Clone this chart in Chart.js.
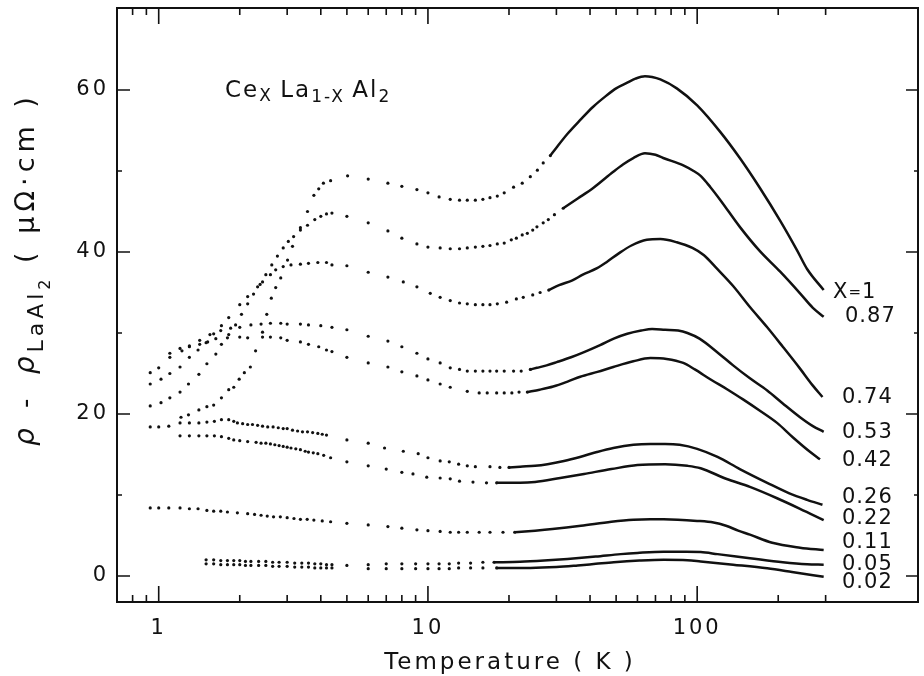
<!DOCTYPE html>
<html lang="en">
<head>
  <meta charset="utf-8">
  <title>CexLa1-xAl2 resistivity</title>
  <style>
    body { margin: 0; background: #fff; }
    #wrap { width: 924px; height: 676px; }
  </style>
</head>

<body>
  <div id="wrap"><canvas id="myChart"></canvas></div>

  <script src="https://cdn.jsdelivr.net/npm/chart.js@4"></script>
  <script>
    // concentrations, in the order the curves end at 300 K (top to bottom)
    var concentrations = ['X=1', '0.87', '0.74', '0.53', '0.42', '0.26', '0.22', '0.11', '0.05', '0.02'];

    // [T (K), rho - rho(LaAl2) (uOhm cm)]; "dots" = separate points at low T, "line" = dense data at high T
    var dotsX100 = [[1.21,19.6],[1.29,19.9],[1.41,20.5],[1.51,20.9],[1.6,21.1],[1.71,22.0],[1.82,23.0],[1.9,23.3],[1.99,24.3],[2.08,25.1],[2.19,25.8],[2.29,27.8],[2.43,30.1],[2.52,32.3],[2.62,34.3],[2.72,35.6],[2.84,36.8],[3.01,39.0],[3.14,40.7],[3.36,43.0],[3.57,45.0],[3.77,47.0],[3.93,47.8],[4.09,48.5],[4.35,48.8],[5.03,49.4],[6.0,49.0],[7.1,48.5],[8.0,48.1],[9.1,47.7],[10,47.3],[11,46.8],[12.1,46.5],[13.1,46.4],[14,46.4],[15,46.4],[16,46.5],[17,46.7],[18.1,46.9],[19.2,47.3],[20.8,48.0],[22.4,48.5],[24,49.3],[25.5,50.1],[26.8,51.0],[28.5,51.9]];
    var lineX100 = [[28.5,51.9],[30.2,53.0],[33,54.6],[36.8,56.3],[41,57.9],[46,59.3],[50,60.2],[55,60.9],[59,61.4],[64,61.7],[68,61.6],[73,61.3],[84,60.2],[100,58.1],[122,54.8],[144,51.6],[171,47.9],[203,43.9],[235,40.2],[256,37.9],[295,35.3]];

    var dotsX087 = [[0.93,21.0],[1.02,21.4],[1.1,22.0],[1.2,22.7],[1.29,23.7],[1.41,24.9],[1.51,26.2],[1.63,27.4],[1.71,28.6],[1.82,29.8],[1.93,31.0],[2.03,32.3],[2.14,33.6],[2.25,34.8],[2.38,36.0],[2.5,37.2],[2.63,38.4],[2.76,39.5],[2.9,40.5],[3.03,41.3],[3.17,41.9],[3.36,42.7],[3.57,43.3],[3.8,44.0],[4.0,44.4],[4.2,44.7],[4.4,44.8],[5.0,44.4],[6.0,43.6],[7.1,42.6],[8.0,41.7],[9.1,41.0],[10,40.6],[11.1,40.5],[12.1,40.4],[13.1,40.4],[14,40.5],[15,40.6],[16,40.7],[17,40.8],[18.1,41.0],[19.2,41.1],[20.4,41.5],[21.3,41.7],[22.4,42.1],[23.4,42.3],[24.5,42.7],[25.4,43.1],[26.8,43.6],[28,44.0],[29.5,44.6],[31.8,45.4]];
    var lineX087 = [[31.8,45.4],[36,46.6],[41.1,47.9],[48.8,49.9],[53,50.8],[57.9,51.6],[64,52.2],[70,52.0],[74.8,51.6],[88.8,50.7],[97,50.0],[103,49.4],[112,48.0],[122,46.4],[144,43.1],[171,40.1],[203,37.6],[241,34.9],[269,33.1],[295,32.0]];

    var dotsX074 = [[0.93,23.7],[1.02,24.3],[1.1,25.0],[1.2,25.8],[1.3,27.0],[1.4,27.9],[1.5,28.8],[1.6,29.9],[1.71,30.9],[1.82,31.9],[2.0,33.5],[2.14,34.5],[2.33,35.7],[2.43,36.3],[2.6,37.2],[2.72,37.8],[2.9,38.2],[3.1,38.4],[3.36,38.5],[3.6,38.6],[3.9,38.7],[4.2,38.7],[4.4,38.4],[5.0,38.3],[6.0,37.5],[7.1,36.9],[8.1,36.3],[9.1,35.7],[10.2,34.9],[11.1,34.4],[12.1,34.0],[13.1,33.7],[14,33.6],[15,33.5],[16,33.5],[17,33.5],[18.1,33.6],[19.6,33.8],[21.3,34.2],[22.6,34.4],[24.5,34.7],[26.1,35.0],[28.1,35.3]];
    var lineX074 = [[28.1,35.3],[30.7,35.9],[34.4,36.5],[37.6,37.2],[42.5,38.0],[46.3,38.8],[51,39.8],[57,40.8],[65,41.5],[73,41.6],[84,41.2],[96,40.5],[106,39.6],[118,38.0],[136,35.8],[157,33.2],[182,30.7],[208,28.3],[241,25.6],[269,23.5],[292,22.1]];

    var dotsX053 = [[0.93,25.1],[1.0,25.7],[1.1,27.0],[1.22,27.8],[1.3,28.4],[1.42,29.1],[1.55,29.8],[1.7,30.3],[1.85,30.6],[2.0,30.7],[2.2,31.0],[2.4,31.1],[2.6,31.2],[2.84,31.2],[3.0,31.1],[3.36,31.1],[3.6,31.0],[4.0,30.9],[4.4,30.7],[5.0,30.4],[6.0,29.6],[7.1,29.0],[8.0,28.3],[9.1,27.5],[10,26.8],[11.1,26.3],[12.1,25.7],[13.1,25.5],[14,25.3],[15,25.3],[16,25.3],[17,25.3],[18,25.3],[19.2,25.3],[20.8,25.3],[22.2,25.3],[24,25.5]];
    var lineX053 = [[24,25.5],[25.4,25.7],[27.6,26.0],[30.1,26.4],[34,27.0],[38.4,27.7],[43.6,28.5],[49,29.3],[55,29.9],[62,30.3],[68,30.5],[76,30.4],[85,30.3],[92,30.0],[102,29.3],[119,27.6],[136,26.0],[157,24.4],[182,22.9],[208,21.3],[241,19.6],[269,18.5],[295,17.8]];

    var dotsX042 = [[1.1,27.5],[1.2,28.1],[1.3,28.3],[1.42,28.6],[1.52,28.9],[1.63,29.3],[1.8,29.4],[2.0,29.5],[2.14,29.4],[2.43,29.5],[2.6,29.5],[2.84,29.4],[3.0,29.1],[3.36,28.9],[3.6,28.6],[3.93,28.3],[4.2,27.9],[4.4,27.7],[5.0,27.0],[6.0,26.3],[7.1,25.8],[8.0,25.2],[9.1,24.7],[10,24.2],[11.1,23.7],[12.1,23.3],[14,22.8],[15.5,22.6],[16.6,22.6],[18,22.6],[19.2,22.6],[20.5,22.6],[21.8,22.7],[23.4,22.7]];
    var lineX042 = [[23.4,22.7],[26,23.0],[29.2,23.4],[33,24.0],[36.8,24.6],[42.6,25.2],[48.8,25.8],[57.9,26.5],[67,26.9],[77,26.8],[88.8,26.3],[98,25.5],[113,24.2],[130,23.0],[148,21.8],[171,20.4],[198,18.9],[227,17.1],[263,15.3],[286,14.4]];

    var dotsX026 = [[0.93,18.4],[1.0,18.4],[1.09,18.5],[1.2,18.9],[1.3,18.9],[1.41,18.9],[1.51,19.0],[1.61,19.1],[1.71,19.3],[1.82,19.3],[1.9,19.1],[1.96,18.9],[2.05,18.8],[2.14,18.7],[2.23,18.7],[2.33,18.6],[2.43,18.5],[2.54,18.4],[2.66,18.4],[2.78,18.3],[2.9,18.2],[3.0,18.2],[3.14,18.0],[3.28,17.9],[3.42,17.8],[3.57,17.8],[3.73,17.7],[3.9,17.6],[4.05,17.5],[4.2,17.4],[5.0,16.8],[6.0,16.4],[6.9,15.8],[8.1,15.4],[9.2,15.1],[10,14.6],[11.1,14.2],[12,14.1],[13,13.8],[14,13.6],[15,13.5],[17,13.5],[18.5,13.4],[20,13.4]];
    var lineX026 = [[20,13.4],[22,13.5],[25,13.6],[27.8,13.8],[32,14.2],[36.7,14.7],[42.4,15.3],[48.8,15.8],[58,16.2],[67,16.3],[76,16.3],[86,16.2],[100,15.7],[119,14.7],[144,13.2],[182,11.5],[220,10.2],[256,9.4],[292,8.8]];

    var dotsX022 = [[1.2,17.3],[1.3,17.3],[1.41,17.3],[1.51,17.3],[1.61,17.3],[1.71,17.2],[1.82,17.0],[1.9,16.8],[2.0,16.7],[2.14,16.6],[2.3,16.5],[2.4,16.4],[2.5,16.4],[2.6,16.3],[2.7,16.2],[2.8,16.1],[2.9,16.0],[3.0,15.9],[3.1,15.8],[3.23,15.7],[3.36,15.6],[3.5,15.4],[3.6,15.3],[3.75,15.2],[3.9,15.1],[4.1,14.9],[4.35,14.6],[5,14.1],[6,13.6],[7,13.2],[8,12.8],[8.8,12.6],[9.9,12.2],[11.1,12.1],[12.1,12.0],[13.1,11.7],[14.7,11.6],[16.5,11.5],[18,11.5]];
    var lineX022 = [[18,11.5],[22,11.5],[25,11.6],[31,12.1],[38,12.6],[48,13.2],[60,13.7],[76,13.8],[92,13.6],[103,13.3],[128,12.0],[157,11.0],[198,9.6],[241,8.3],[295,6.9]];

    var dotsX011 = [[0.93,8.4],[1.0,8.4],[1.09,8.4],[1.2,8.4],[1.3,8.3],[1.4,8.3],[1.51,8.1],[1.6,8.0],[1.7,8.0],[1.8,7.9],[1.96,7.8],[2.14,7.7],[2.27,7.6],[2.4,7.5],[2.53,7.4],[2.67,7.3],[2.83,7.3],[3.0,7.2],[3.18,7.1],[3.36,7.0],[3.56,7.0],[3.77,6.9],[4.05,6.8],[4.35,6.7],[5,6.5],[6,6.3],[7.1,6.1],[8,5.9],[9.1,5.7],[10,5.6],[11.1,5.5],[12.1,5.4],[13,5.4],[14,5.4],[15.5,5.4],[17,5.4],[19,5.4],[21,5.4]];
    var lineX011 = [[21,5.4],[25,5.6],[29,5.8],[37,6.2],[48,6.7],[58,6.95],[67,7.0],[75,7.0],[100,6.8],[115,6.6],[128,6.2],[142,5.6],[157,5.1],[190,4.1],[241,3.5],[295,3.2]];

    var dotsX005 = [[1.5,2.0],[1.6,2.0],[1.7,1.9],[1.8,1.9],[1.9,1.9],[2.0,1.9],[2.1,1.8],[2.2,1.8],[2.35,1.8],[2.5,1.8],[2.65,1.7],[2.8,1.7],[3.0,1.7],[3.2,1.6],[3.4,1.6],[3.6,1.6],[3.8,1.5],[4.0,1.5],[4.2,1.4],[4.4,1.4],[5,1.3],[6,1.4],[7,1.5],[8,1.5],[9,1.5],[10,1.5],[11,1.5],[12,1.5],[13,1.6],[14.4,1.6],[16,1.7],[17.6,1.7]];
    var lineX005 = [[17.6,1.7],[22,1.75],[27,1.9],[33,2.1],[42,2.4],[52,2.7],[60,2.85],[75,3.0],[91,3.0],[103,2.95],[119,2.7],[157,2.2],[208,1.7],[256,1.45],[295,1.4]];

    var dotsX002 = [[1.5,1.5],[1.6,1.5],[1.7,1.4],[1.8,1.4],[1.9,1.4],[2.0,1.4],[2.1,1.3],[2.2,1.3],[2.35,1.3],[2.5,1.3],[2.65,1.2],[2.8,1.2],[3.0,1.2],[3.2,1.1],[3.4,1.1],[3.6,1.1],[3.8,1.0],[4.0,1.0],[4.2,1.0],[4.4,1.0],[6,0.9],[7,0.9],[8,0.9],[9,0.9],[10,0.9],[11,0.9],[12,0.9],[13,1.0],[14.4,1.0],[16,1.0],[18,1.0]];
    var lineX002 = [[18,1.0],[24,1.0],[30,1.1],[36,1.3],[42,1.5],[49,1.7],[61,1.9],[75,2.0],[92,1.95],[103,1.8],[136,1.4],[182,0.95],[225,0.5],[295,-0.1]];

    var allDots = [dotsX100, dotsX087, dotsX074, dotsX053, dotsX042, dotsX026, dotsX022, dotsX011, dotsX005, dotsX002];
    var allLines = [lineX100, lineX087, lineX074, lineX053, lineX042, lineX026, lineX022, lineX011, lineX005, lineX002];

    // tick marks and labelled ticks
    var xTicks = [0.8, 0.9, 1, 2, 3, 4, 5, 6, 7, 8, 9, 10, 20, 30, 40, 50, 60, 70, 80, 90, 100, 200, 300];
    var xLabels = [1, 10, 100];
    var yTicks = [0, 10, 20, 30, 40, 50, 60];
    var yLabels = [0, 20, 40, 60];

    var ink = '#111';
    var FONT = '"DejaVu Sans", sans-serif';

    var datasets = [];
    allDots.forEach(function(d, i) {
      datasets.push({
        label: concentrations[i] + ' dots',
        data: d,
        showLine: false,
        pointRadius: 1.6,
        pointBackgroundColor: ink,
        pointBorderWidth: 0
      });
      datasets.push({
        label: concentrations[i],
        data: allLines[i],
        borderColor: ink,
        borderWidth: 2.5,
        pointRadius: 0,
        cubicInterpolationMode: 'monotone',
        fill: false
      });
    });

    function isIn(list, v) {
      return list.some(function(t) { return Math.abs(t - v) < 1e-6 * Math.max(1, t); });
    }

    // draw a string made of runs with different sizes / offsets / spacing
    function drawRuns(ctx, x, y, runs) {
      runs.forEach(function(r) {
        ctx.font = (r.style || '') + ' ' + r.size + 'px ' + FONT;
        ctx.letterSpacing = (r.ls == null ? 3 : r.ls) + 'px';
        ctx.fillText(r.text, x, y + (r.dy || 0));
        x += ctx.measureText(r.text).width;
      });
    }

    var frame = {
      id: 'frame',
      beforeDraw: function(chart) {
        chart.ctx.letterSpacing = '3px';
      },
      afterDraw: function(chart) {
        var ctx = chart.ctx, a = chart.chartArea;
        var xs = chart.scales.x, ys = chart.scales.y;
        ctx.save();
        ctx.strokeStyle = ink;
        ctx.fillStyle = ink;
        ctx.lineWidth = 2;
        ctx.strokeRect(a.left, a.top, a.right - a.left, a.bottom - a.top);

        ctx.lineWidth = 1.6;
        ctx.beginPath();
        xTicks.forEach(function(t) {
          var px = xs.getPixelForValue(t);
          var len = isIn(xLabels, t) ? 16 : 7;
          ctx.moveTo(px, a.bottom); ctx.lineTo(px, a.bottom - len);
          ctx.moveTo(px, a.top); ctx.lineTo(px, a.top + len);
        });
        yTicks.forEach(function(v) {
          var py = ys.getPixelForValue(v);
          var major = isIn(yLabels, v);
          ctx.moveTo(a.left, py); ctx.lineTo(a.left + (major ? 13 : 5), py);
          ctx.moveTo(a.right, py); ctx.lineTo(a.right - (major ? 12 : 4), py);
        });
        ctx.stroke();

        ctx.textBaseline = 'alphabetic';
        ctx.textAlign = 'left';

        // compound name inside the frame
        drawRuns(ctx, 225, 97, [
          {text: 'Ce', size: 23, ls: 2},
          {text: 'X ', size: 17, dy: 4, ls: 2},
          {text: 'La', size: 23, ls: 2},
          {text: '1-X ', size: 17, dy: 5, ls: 2},
          {text: 'Al', size: 23, ls: 2},
          {text: '2', size: 17, dy: 5, ls: 2}
        ]);

        // concentration labels at the right end of the curves
        var labelPos = [[833, 293], [845, 317], [842, 398], [842, 433], [842, 461], [842, 498], [842, 519], [842, 543], [842, 565], [842, 583]];
        ctx.textBaseline = 'middle';
        concentrations.forEach(function(c, i) {
          if (c.indexOf('=') > 0) {
            var parts = c.split('=');
            drawRuns(ctx, labelPos[i][0], labelPos[i][1], [
              {text: parts[0], size: 21, ls: 1},
              {text: '=', size: 15, ls: 1},
              {text: parts[1], size: 21, ls: 1}
            ]);
          } else {
            drawRuns(ctx, labelPos[i][0], labelPos[i][1], [{text: c, size: 21, ls: 1}]);
          }
        });

        // x axis title
        ctx.textAlign = 'center';
        ctx.font = '23px ' + FONT;
        ctx.letterSpacing = '3px';
        ctx.fillText('Temperature ( K )', 510, 663);

        // y axis title, rotated
        ctx.textAlign = 'left';
        ctx.textBaseline = 'alphabetic';
        ctx.translate(34, 446);
        ctx.rotate(-Math.PI / 2);
        drawRuns(ctx, 0, 0, [
          {text: '\u03c1', size: 28, style: 'italic', ls: 4},
          {text: ' - ', size: 26, ls: 8},
          {text: '\u03c1', size: 28, style: 'italic', ls: 4},
          {text: 'LaAl', size: 22, dy: 9, ls: 4},
          {text: '2', size: 16, dy: 16, ls: 3},
          {text: ' ( \u03bc\u03a9\u00b7cm )', size: 27, ls: 5}
        ]);
        ctx.restore();
      }
    };

    var ctx = document.getElementById('myChart').getContext('2d');
    var chart = new Chart(ctx, {
      type: 'line',
      data: { datasets: datasets },
      options: {
        responsive: true,
        maintainAspectRatio: false,
        animation: false,
        layout: { padding: { top: 8, right: 6, left: 0, bottom: 0 } },
        plugins: { legend: { display: false }, tooltip: { enabled: false } },
        scales: {
          x: {
            type: 'logarithmic',
            min: 0.705,
            max: 661,
            grid: { display: false, drawTicks: false },
            border: { display: false },
            afterFit: function(scale) {
              scale.height = 74;
              scale.paddingLeft = 0;
              scale.paddingRight = 0;
            },
            ticks: {
              autoSkip: false,
              maxRotation: 0,
              padding: 14,
              color: ink,
              font: { family: 'DejaVu Sans', size: 21 },
              callback: function(v) { return isIn(xLabels, v) ? String(Math.round(v)) : ''; }
            }
          },
          y: {
            min: -3.21,
            max: 70.12,
            grid: { display: false, drawTicks: false },
            border: { display: false },
            afterFit: function(scale) {
              scale.width = 117;
              scale.paddingTop = 0;
              scale.paddingBottom = 0;
            },
            ticks: {
              stepSize: 10,
              includeBounds: false,
              padding: 8,
              color: ink,
              font: { family: 'DejaVu Sans', size: 21 },
              callback: function(v) { return isIn(yLabels, v) ? String(v) : ''; }
            }
          }
        }
      },
      plugins: [frame]
    });
  </script>
</body>
</html>
